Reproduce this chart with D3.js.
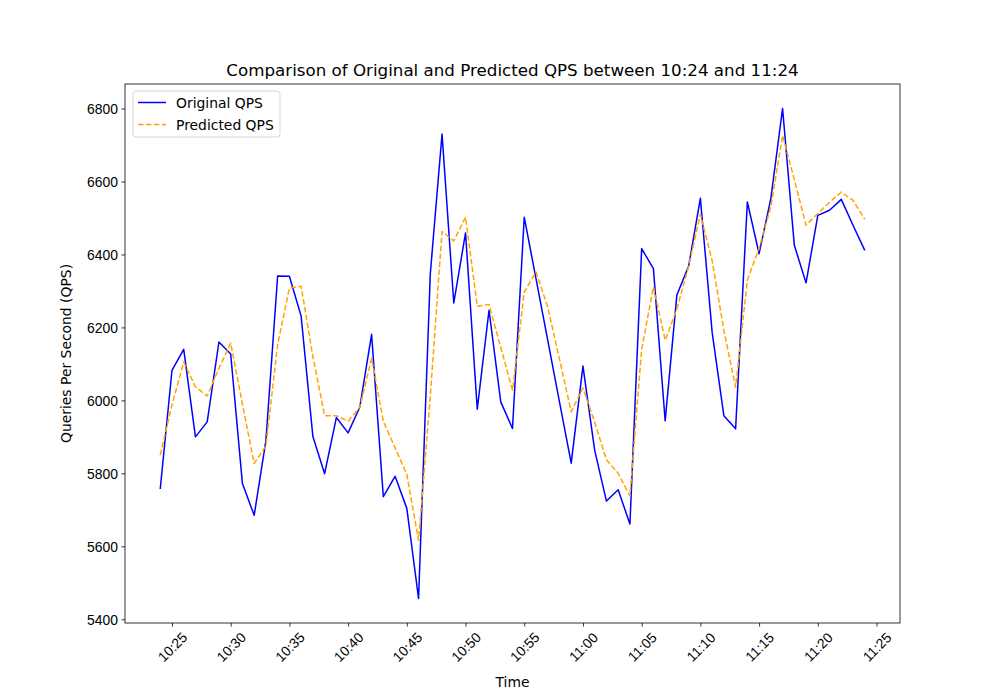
<!DOCTYPE html>
<html>
<head>
<meta charset="utf-8">
<script src="https://cdn.jsdelivr.net/npm/d3@7"></script>
<style>
  body { margin: 0; background: #fff; }
  svg { display: block; font-family: 'DejaVu Sans', sans-serif; }
</style>
</head>
<body>
<div id="chart"></div>
<script>
// one reading per minute, 10:24 .. 11:24
const startTime = '10:24';
const originalQps = [
  5757, 6082, 6140, 5900, 5941, 6160, 6127, 5772, 5685, 5890,
  6341, 6340, 6231, 5901, 5799, 5953, 5911, 5982, 6181, 5736,
  5792, 5704, 5457, 6347, 6730, 6267, 6459, 5976, 6247, 5996,
  5923, 6502, 6334, 6165, 5996, 5828, 6094, 5863, 5724, 5755,
  5661, 6416, 6361, 5944, 6289, 6368, 6554, 6187, 5958, 5922,
  6544, 6402, 6553, 6800, 6425, 6322, 6507, 6521, 6551, 6480,
  6411
];
const predictedQps = [
  5850, 5988, 6105, 6037, 6012, 6088, 6157, 5990, 5827, 5875,
  6153, 6308, 6313, 6120, 5958, 5958, 5943, 5982, 6116, 5943,
  5870, 5797, 5616, 6012, 6463, 6437, 6502, 6258, 6263, 6145,
  6028, 6297, 6352, 6256, 6113, 5969, 6034, 5940, 5837, 5800,
  5738, 6140, 6311, 6165, 6250, 6368, 6510, 6383, 6192, 6036,
  6329, 6417, 6530, 6726, 6605, 6480, 6512, 6543, 6571, 6548,
  6496
];
const xTickLabels = ['10:25', '10:30', '10:35', '10:40', '10:45', '10:50', '10:55',
                     '11:00', '11:05', '11:10', '11:15', '11:20', '11:25'];
const yTickValues = [5400, 5600, 5800, 6000, 6200, 6400, 6600, 6800];
const seriesNames = ['Original QPS', 'Predicted QPS'];

const width = 1000;
const height = 700;
const margin = { left: 125, right: 100, top: 84, bottom: 77 };

const parseTime = d3.timeParse('%H:%M');
const t0 = parseTime(startTime);
const times = originalQps.map((d, i) => d3.timeMinute.offset(t0, i));

const svg = d3.select('#chart')
  .append('svg')
  .attr('width', width)
  .attr('height', height);

// matplotlib style 5% padding on both axes
const tExtent = d3.extent(times);
const tPad = (tExtent[1] - tExtent[0]) * 0.05;
const x = d3.scaleTime()
  .domain([new Date(+tExtent[0] - tPad), new Date(+tExtent[1] + tPad)])
  .range([margin.left, width - margin.right]);

const yExtent = d3.extent(originalQps.concat(predictedQps));
const yPad = (yExtent[1] - yExtent[0]) * 0.05;
const y = d3.scaleLinear()
  .domain([yExtent[0] - yPad, yExtent[1] + yPad])
  .range([height - margin.bottom, margin.top]);

const line = d3.line()
  .x((d, i) => x(times[i]))
  .y(d => y(d));

svg.append('path')
  .datum(originalQps)
  .attr('fill', 'none')
  .attr('stroke', '#0000ff')
  .attr('stroke-width', 1.5)
  .attr('stroke-linejoin', 'round')
  .attr('d', line);

svg.append('path')
  .datum(predictedQps)
  .attr('fill', 'none')
  .attr('stroke', '#ffa500')
  .attr('stroke-width', 1.5)
  .attr('stroke-dasharray', '5.55,2.4')
  .attr('stroke-linejoin', 'round')
  .attr('d', line);

// axes frame
svg.append('rect')
  .attr('x', margin.left)
  .attr('y', margin.top)
  .attr('width', width - margin.left - margin.right)
  .attr('height', height - margin.top - margin.bottom)
  .attr('fill', 'none')
  .attr('stroke', '#000')
  .attr('stroke-width', 0.8);

// x axis
const xTicks = xTickLabels.map(parseTime);
const xAxis = svg.append('g')
  .attr('transform', `translate(0,${height - margin.bottom})`)
  .call(d3.axisBottom(x).tickValues(xTicks).tickSize(3.5).tickFormat(d3.timeFormat('%H:%M')));
xAxis.select('.domain').remove();
xAxis.selectAll('.tick line').attr('stroke', '#000').attr('stroke-width', 0.8);
xAxis.selectAll('.tick text')
  .attr('y', 0)
  .attr('dy', null)
  .attr('font-size', '13.9px')
  .attr('fill', '#000')
  .attr('text-anchor', 'middle')
  .attr('dominant-baseline', 'central')
  .attr('transform', 'translate(0,24) rotate(-45)');

// y axis
const yAxis = svg.append('g')
  .attr('transform', `translate(${margin.left},0)`)
  .call(d3.axisLeft(y).tickValues(yTickValues).tickSize(3.5).tickFormat(d3.format('d')));
yAxis.select('.domain').remove();
yAxis.selectAll('.tick line').attr('stroke', '#000').attr('stroke-width', 0.8);
yAxis.selectAll('.tick text')
  .attr('x', -7)
  .attr('dy', null)
  .attr('dominant-baseline', 'central')
  .attr('font-size', '13.9px')
  .attr('fill', '#000');

// title and labels
svg.append('text')
  .attr('x', (margin.left + width - margin.right) / 2)
  .attr('y', 76)
  .attr('text-anchor', 'middle')
  .attr('font-size', '16.7px')
  .attr('fill', '#000')
  .text('Comparison of Original and Predicted QPS between 10:24 and 11:24');

svg.append('text')
  .attr('x', (margin.left + width - margin.right) / 2)
  .attr('y', 687)
  .attr('text-anchor', 'middle')
  .attr('font-size', '13.9px')
  .attr('fill', '#000')
  .text('Time');

svg.append('text')
  .attr('transform', `translate(71,${(margin.top + height - margin.bottom) / 2}) rotate(-90)`)
  .attr('text-anchor', 'middle')
  .attr('font-size', '13.9px')
  .attr('fill', '#000')
  .text('Queries Per Second (QPS)');

// legend
const legend = svg.append('g').attr('transform', 'translate(133,91)');
legend.append('rect')
  .attr('width', 147)
  .attr('height', 46)
  .attr('rx', 3)
  .attr('fill', '#fff')
  .attr('fill-opacity', 0.8)
  .attr('stroke', '#cccccc')
  .attr('stroke-width', 0.8);

const legendStyles = [
  { color: '#0000ff', dash: null },
  { color: '#ffa500', dash: '5.55,2.4' }
];
seriesNames.forEach((name, i) => {
  const ly = 11.5 + i * 22;
  legend.append('line')
    .attr('x1', 5)
    .attr('x2', 33)
    .attr('y1', ly)
    .attr('y2', ly)
    .attr('stroke', legendStyles[i].color)
    .attr('stroke-width', 1.5)
    .attr('stroke-dasharray', legendStyles[i].dash);
  legend.append('text')
    .attr('x', 43)
    .attr('y', ly)
    .attr('dominant-baseline', 'central')
    .attr('font-size', '13.9px')
    .attr('fill', '#000')
    .text(name);
});
</script>
</body>
</html>
